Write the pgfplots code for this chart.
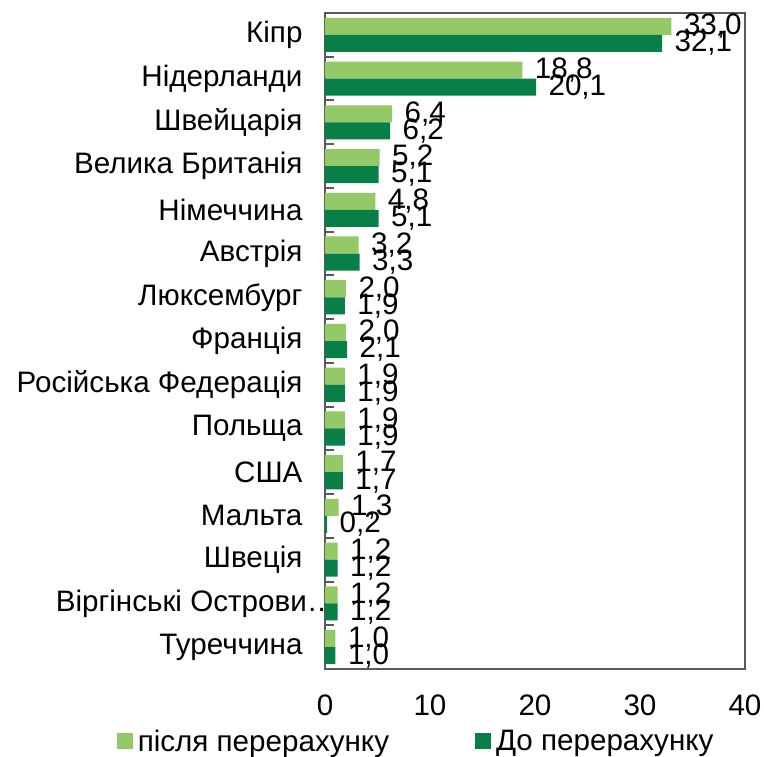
\documentclass[border=0pt]{standalone}
\usepackage{fontspec}
\setmainfont{Liberation Sans}
\usepackage{pgfplots}
\pgfplotsset{compat=1.18}
\definecolor{light}{HTML}{93C966}
\definecolor{dark}{HTML}{087F46}
\definecolor{axgray}{HTML}{595959}
\newcommand\bigf{\fontsize{29.6}{35}\selectfont}
\begin{document}
\begin{tikzpicture}
\useasboundingbox (-325pt,-87pt) rectangle (439pt,669pt);
\begin{axis}[
 at={(0pt,0pt)}, anchor=south west,
 scale only axis, width=420pt, height=656pt,
 xbar, xmin=0, xmax=40, ymin=-0.5, ymax=14.5, y dir=reverse,
 xtick={0,10,20,30,40},
 ytick={0,...,14},
 yticklabels={Кіпр, Нідерланди, Швейцарія, Велика Британія\ , Німеччина, Австрія, Люксембург, Франція, Російська Федерація, Польща, США, Мальта, Швеція, Віргінські Острови…\hspace*{-34pt}, Туреччина},
 minor ytick={-0.5,0.5,...,14.5},
 major tick length=0pt, minor tick length=9pt, tick align=inside,
 ytick pos=left, xtick pos=bottom,
 minor y tick style={axgray, line width=2pt},
 axis line style={axgray, line width=2pt},
 /pgf/number format/assume math mode=true,
 ticklabel style={font=\bigf},
 xticklabel style={yshift=-22pt},
 yticklabel style={xshift=-19pt},
 bar width=0.39,
 nodes near coords={\pgfmathprintnumber[fixed,fixed zerofill,precision=1,use comma,assume math mode=true]{\pgfplotspointmeta}},
 nodes near coords style={font=\bigf, black, xshift=9pt},
 legend style={at={(0.217,-0.11)}, anchor=center, draw=none, fill=none, font=\bigf,
   /tikz/every odd column/.append style={column sep=3pt},
   /tikz/every even column/.append style={column sep=84pt}},
 legend columns=2,
 legend image code/.code={\fill[#1] (0pt,-8pt) rectangle (16pt,8pt);},
]
\addplot[fill=light, draw=none, bar shift=-0.195] coordinates {
 (33.0,0) (18.8,1) (6.4,2) (5.2,3) (4.8,4) (3.2,5) (2.0,6) (2.0,7)
 (1.9,8) (1.9,9) (1.7,10) (1.3,11) (1.2,12) (1.2,13) (1.0,14)};
\addplot[fill=dark, draw=none, bar shift=0.195] coordinates {
 (32.1,0) (20.1,1) (6.2,2) (5.1,3) (5.1,4) (3.3,5) (1.9,6) (2.1,7)
 (1.9,8) (1.9,9) (1.7,10) (0.2,11) (1.2,12) (1.2,13) (1.0,14)};
\legend{після перерахунку, До перерахунку}
\end{axis}
\end{tikzpicture}
\end{document}
